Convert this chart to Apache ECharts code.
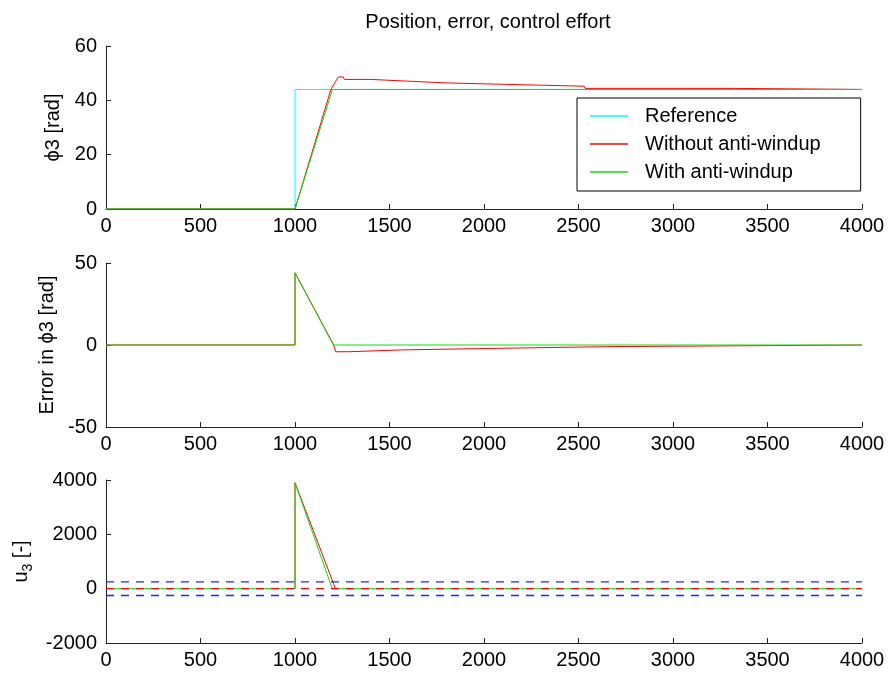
<!DOCTYPE html>
<html>
<head>
<meta charset="utf-8">
<script src="https://cdn.jsdelivr.net/npm/echarts@6/dist/echarts.min.js"></script>
<style>
  html, body { margin: 0; padding: 0; background: #fff; }
  #chart { width: 890px; height: 673px; }
</style>
</head>
<body>
<div id="chart"></div>
<script>
// time axis ticks
const xTicks = [0, 500, 1000, 1500, 2000, 2500, 3000, 3500, 4000];

// top: position phi3 [rad]
const posReference = [[0, 0], [1000, 0], [1000, 44], [4000, 44]];
const posWithout = [[0, 0], [1000, 0], [1190, 44], [1215, 47], [1230, 48.6], [1255, 48.6], [1262, 47.7],
  [1400, 47.7], [1405, 47.1], [1585, 47.1], [1590, 46.4], [1805, 46.4], [1810, 45.9],
  [2105, 45.9], [2110, 45.2], [2530, 45.2], [2535, 44.4], [3325, 44.4], [3330, 44], [4000, 44]];
const posWith = [[0, 0], [1000, 0], [1198, 44], [4000, 44]];

// middle: error in phi3 [rad]
const errWithout = [[0, 0], [1000, 0], [1000, 44], [1205, 0], [1215, -4.1], [1285, -4.1], [1290, -3.0],
  [1565, -3.0], [1570, -2.2], [1975, -2.2], [1980, -1.0], [2655, -1.0], [2660, 0], [4000, 0]];
const errWith = [[0, 0], [1000, 0], [1000, 44], [1203, 0], [4000, 0]];

// bottom: control effort u3
const uWithout = [[1000, 0], [1000, 3900], [1214, 0]];
const uWith = [[0, 0], [1000, 0], [1000, 3900], [1197, 0], [4000, 0]];
const uZero = 0;
const uLimits = [250, -250];

const chart = echarts.init(document.getElementById('chart'));
const font = 'Liberation Sans, Arial, Helvetica, sans-serif';
const fs = 20;

const grids = [
  { left: 106, right: 28, top: 46, height: 163 },
  { left: 106, right: 28, top: 263, height: 164 },
  { left: 106, right: 28, top: 480, height: 163 }
];

const plain = v => String(v);

const xAxes = grids.map((g, i) => ({
  type: 'value', gridIndex: i, min: xTicks[0], max: xTicks[xTicks.length - 1], interval: 500,
  axisLine: { show: true, onZero: false, lineStyle: { color: '#222', width: 1 } },
  axisTick: { show: true, inside: true, length: 5, lineStyle: { color: '#222' } },
  axisLabel: { color: '#000', fontFamily: font, fontSize: fs, margin: 7, formatter: plain },
  splitLine: { show: false }
}));

function yAxis(i, min, max, interval, name, gap, rich) {
  return {
    type: 'value', gridIndex: i, min: min, max: max, interval: interval,
    name: name, nameLocation: 'middle', nameGap: gap,
    nameTextStyle: { color: '#000', fontFamily: font, fontSize: fs, rich: rich || {} },
    axisLine: { show: true, onZero: false, lineStyle: { color: '#222', width: 1 } },
    axisTick: { show: true, inside: true, length: 5, lineStyle: { color: '#222' } },
    axisLabel: { color: '#000', fontFamily: font, fontSize: fs, margin: 9, formatter: plain },
    splitLine: { show: false }
  };
}

const cyan = '#00ffff', red = '#ff0000', green = '#11dd11', blue = '#2222ff';

function line(name, data, color, xi, extra) {
  return Object.assign({
    name: name, type: 'line', xAxisIndex: xi, yAxisIndex: xi, data: data,
    showSymbol: false, symbol: 'none', animation: false, silent: true,
    lineStyle: { color: color, width: 1 }, itemStyle: { color: color }
  }, extra || {});
}

function hline(v, color, xi) {
  return line('', [[xTicks[0], v], [xTicks[xTicks.length - 1], v]], color, xi,
    { lineStyle: { color: color, width: 1.4, type: [8, 7] } });
}

chart.setOption({
  backgroundColor: '#fff',
  animation: false,
  title: {
    text: 'Position, error, control effort', left: 483, textAlign: 'center', top: 7,
    textStyle: { color: '#000', fontFamily: font, fontSize: fs, fontWeight: 'normal' }
  },
  legend: {
    data: ['Reference', 'Without anti-windup', 'With anti-windup'],
    orient: 'vertical', left: 577, top: 98, itemGap: 8,
    padding: [8, 40, 9, 13], borderColor: '#000', borderWidth: 1,
    icon: 'rect', itemWidth: 38, itemHeight: 1.5,
    textStyle: { color: '#000', fontFamily: font, fontSize: fs, padding: [0, 0, 0, 12] }
  },
  grid: grids,
  xAxis: xAxes,
  yAxis: [
    yAxis(0, 0, 60, 20, 'ϕ3 [rad]', 35),
    yAxis(1, -50, 50, 50, 'Error in ϕ3 [rad]', 47),
    yAxis(2, -2000, 4000, 2000, 'u{sub|3} [-]', 68, { sub: { fontFamily: font, fontSize: 14, verticalAlign: 'bottom', padding: [12, 0, 0, 0] } })
  ],
  series: [
    line('Reference', posReference, cyan, 0),
    line('Without anti-windup', posWithout, red, 0),
    line('With anti-windup', posWith, green, 0),
    line('Without anti-windup', errWithout, red, 1),
    line('With anti-windup', errWith, green, 1),
    line('Without anti-windup', uWithout, red, 2),
    line('With anti-windup', uWith, green, 2),
    hline(uZero, red, 2),
    hline(uLimits[0], blue, 2),
    hline(uLimits[1], blue, 2)
  ]
});
</script>
</body>
</html>
